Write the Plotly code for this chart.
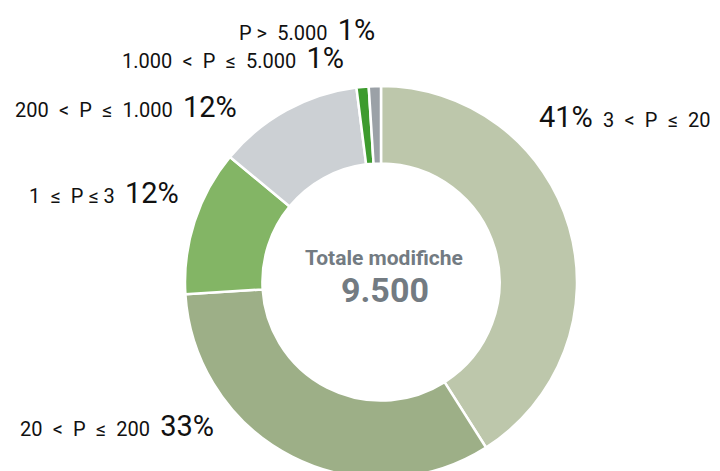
import plotly.graph_objects as go

# Data
categories = ["3 < P ≤ 20", "20 < P ≤ 200", "1 ≤ P ≤ 3", "200 < P ≤ 1.000", "1.000 < P ≤ 5.000", "P > 5.000"]
S = "\u2002"
display_labels = [f"3{S}<{S}P{S}≤{S}20", f"20{S}<{S}P{S}≤{S}200", f"1{S}≤{S}P ≤ 3",
                  f"200{S}<{S}P{S}≤{S}1.000", f"1.000{S}<{S}P{S}≤{S}5.000", f"P >{S}5.000"]
percentages = [41, 33, 12, 12, 1, 1]
colors = ["#bdc7ab", "#9daf87", "#83b565", "#ccd0d4", "#3d9b2e", "#9ba1a7"]
total_label = "Totale modifiche"
total_value = "9.500"

W, H = 720, 480
FONT = "Roboto"
TXT = "#111111"

fig = go.Figure()
cx, cy, r = 381, 282, 196
fig.add_trace(go.Pie(
    labels=categories,
    values=percentages,
    hole=0.605,
    sort=False,
    direction="clockwise",
    rotation=0,
    marker=dict(colors=colors, line=dict(color="white", width=2.5)),
    textinfo="none",
    hoverinfo="label+percent",
    showlegend=False,
    domain=dict(x=[(cx - r) / W, (cx + r) / W], y=[(H - cy - r) / H, (H - cy + r) / H]),
))

def big(p):
    return f'<span style="font-size:29px">{p}%</span>'

# label placements (pixel anchor, alignment, percent-first?)
placements = [
    (537, 117, "left", True),
    (216, 426, "right", False),
    (181, 193, "right", False),
    (239, 107, "right", False),
    (346, 58, "right", False),
    (377, 30, "right", False),
]
for lab, p, (px, py, align, pfirst) in zip(display_labels, percentages, placements):
    text = f"{big(p)}{S}{lab}" if pfirst else f"{lab}{S}{big(p)}"
    fig.add_annotation(
        x=px / W, y=1 - py / H, xref="paper", yref="paper",
        xanchor=align, yanchor="middle", showarrow=False,
        text=text, font=dict(family=FONT, size=20, color=TXT),
    )

fig.add_annotation(x=384 / W, y=1 - 258 / H, xref="paper", yref="paper",
                   text=f"<b>{total_label}</b>", showarrow=False,
                   font=dict(family=FONT, size=21, color="#737b82"))
fig.add_annotation(x=385 / W, y=1 - 290 / H, xref="paper", yref="paper",
                   text=f"<b>{total_value}</b>", showarrow=False,
                   font=dict(family=FONT, size=34, color="#737b82"))

fig.update_layout(width=W, height=H, margin=dict(l=0, r=0, t=0, b=0),
                  paper_bgcolor="white", plot_bgcolor="white")
fig.write_html("out.html", config={"displayModeBar": False},
               post_script="document.body.style.margin='0';document.body.style.overflow='hidden';")
